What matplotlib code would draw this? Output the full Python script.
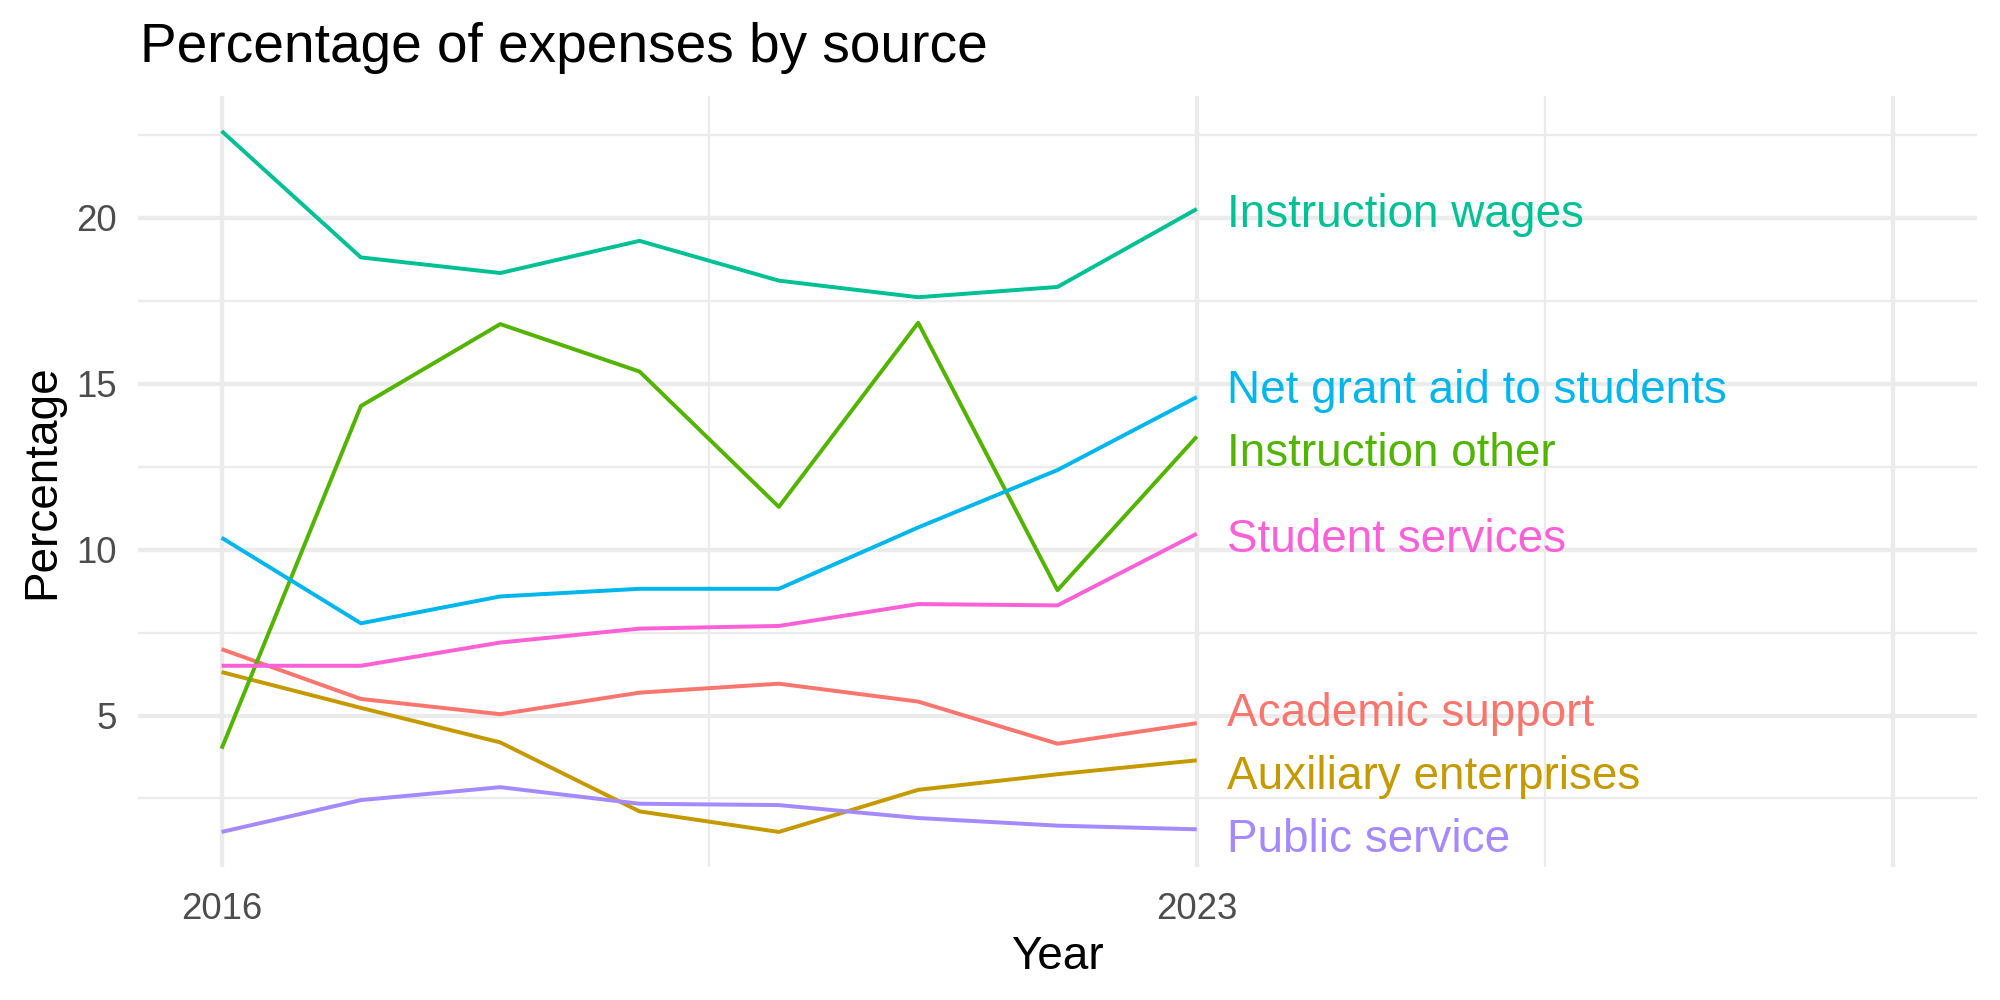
import matplotlib
matplotlib.use("Agg")
import matplotlib.pyplot as plt
import matplotlib.transforms as mtransforms
import numpy as np

plt.rcParams['font.family'] = ['Liberation Sans', 'DejaVu Sans']

years = [2016, 2017, 2018, 2019, 2020, 2021, 2022, 2023]

academic_support = [7.00, 5.50, 5.04, 5.69, 5.96, 5.42, 4.15, 4.77]
auxiliary_enterprises = [6.31, 5.23, 4.19, 2.11, 1.49, 2.76, 3.23, 3.65]
instruction_other = [4.00, 14.33, 16.80, 15.37, 11.29, 16.84, 8.78, 13.41]
instruction_wages = [22.62, 18.81, 18.34, 19.31, 18.11, 17.61, 17.92, 20.27]
net_grant_aid = [10.36, 7.78, 8.59, 8.82, 8.82, 10.67, 12.40, 14.60]
public_service = [1.49, 2.45, 2.84, 2.34, 2.30, 1.91, 1.68, 1.57]
student_services = [6.50, 6.50, 7.20, 7.62, 7.70, 8.36, 8.32, 10.48]

series_names = ["Academic support", "Auxiliary enterprises", "Instruction other",
                "Instruction wages", "Net grant aid to students", "Public service",
                "Student services"]
series_values = [academic_support, auxiliary_enterprises, instruction_other,
                 instruction_wages, net_grant_aid, public_service, student_services]
colors = ["#F8766D", "#C49A00", "#53B400", "#00C094", "#00B6EB", "#A58AFF", "#FB61D7"]

x_major = [2016, 2023, 2028]
x_major_labels = ["2016", "2023", ""]
x_minor = [2019.5, 2025.5]
y_major = [5, 10, 15, 20]
y_minor = [2.5, 7.5, 12.5, 17.5, 22.5]

fig = plt.figure(figsize=(20/3, 10/3), dpi=300)
ax = fig.add_axes([0.069, 0.133, 0.9195, 0.771])

# limits like ggplot (5% expansion)
xmin, xmax = 2016, 2028
xr = xmax - xmin
ax.set_xlim(xmin - 0.05*xr, xmax + 0.05*xr)
allv = np.concatenate([np.array(v) for v in series_values])
ymin, ymax = allv.min(), allv.max()
yr = ymax - ymin
ax.set_ylim(ymin - 0.05*yr, ymax + 0.05*yr)

grid_col = "#EBEBEB"
for xv in x_minor:
    ax.axvline(xv, color=grid_col, lw=0.55, zorder=0)
for yv in y_minor:
    ax.axhline(yv, color=grid_col, lw=0.55, zorder=0)
for xv in x_major:
    ax.axvline(xv, color=grid_col, lw=1.05, zorder=0)
for yv in y_major:
    ax.axhline(yv, color=grid_col, lw=1.05, zorder=0)

for name, vals, c in zip(series_names, series_values, colors):
    ax.plot(years, vals, color=c, lw=0.95, zorder=2, solid_capstyle='butt')

# simple repel of end labels
end_vals = np.array([v[-1] for v in series_values], dtype=float)
lab_y = end_vals.copy()
gap = 1.9
for _ in range(500):
    order = np.argsort(lab_y)
    moved = False
    for i in range(len(order) - 1):
        a, b = order[i], order[i+1]
        d = lab_y[b] - lab_y[a]
        if d < gap - 1e-6:
            push = (gap - d) / 2
            lab_y[a] -= push
            lab_y[b] += push
            moved = True
    if not moved:
        break

label_shift = mtransforms.offset_copy(ax.transData, fig=fig, x=0, y=-1.4, units='points')
for name, yv, c in zip(series_names, lab_y, colors):
    ax.text(years[-1] + 0.22, yv, name, color=c, fontsize=11, ha='left', va='center',
            zorder=3, transform=label_shift)

ax.set_xticks(x_major)
ax.set_xticklabels(x_major_labels)
ax.set_yticks(y_major)
ax.tick_params(axis='both', length=0, labelsize=8.8, labelcolor="#4D4D4D")
ax.tick_params(axis='x', pad=6)
ax.tick_params(axis='y', pad=5)
for s in ax.spines.values():
    s.set_visible(False)

ax.set_xlabel("Year", fontsize=11, labelpad=2)
ax.set_ylabel("Percentage", fontsize=11, labelpad=3)
fig.text(0.07, 0.938, "Percentage of expenses by source", fontsize=13.2, ha='left', va='baseline')

fig.savefig("out.png", dpi=300, facecolor="white")
